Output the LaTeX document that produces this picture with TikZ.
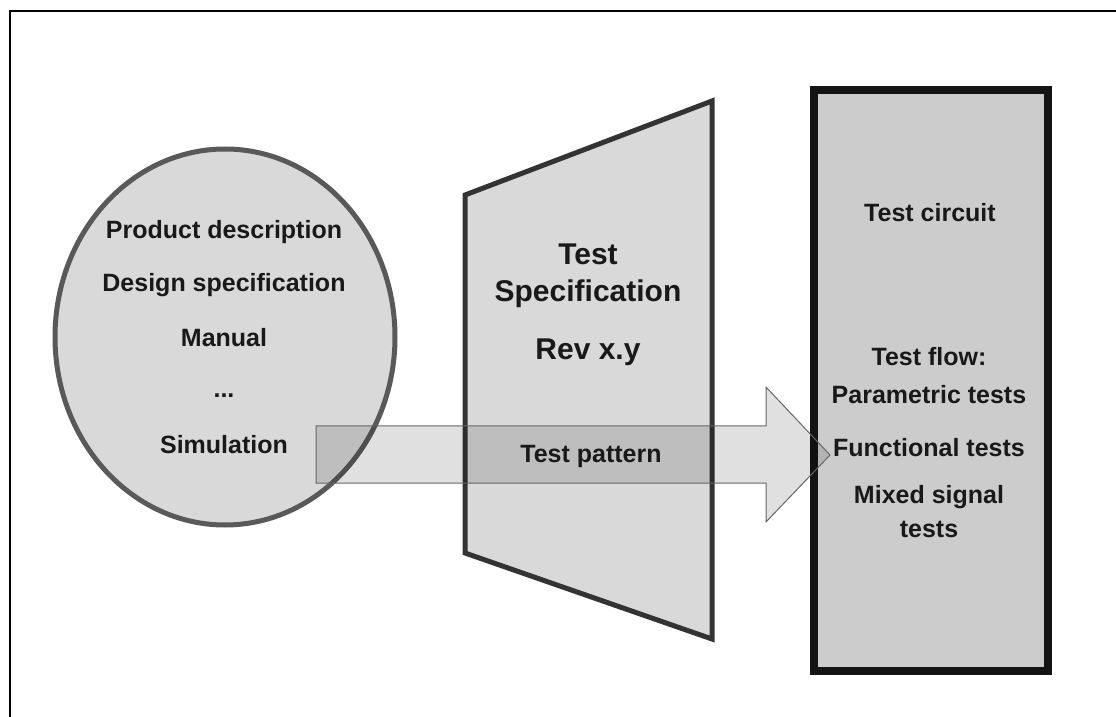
\documentclass[tikz,border=0pt]{standalone}
\usepackage{fontspec}
\setmainfont{Liberation Sans}
\definecolor{shade}{HTML}{D9D9D9}
\definecolor{boxfill}{HTML}{CCCCCC}
\tikzset{
  txt/.style={font=\bfseries\fontsize{12.5}{14}\selectfont, text=black!90, inner sep=0pt},
  bigtxt/.style={font=\bfseries\fontsize{15}{17}\selectfont, text=black!90, inner sep=0pt}
}
\begin{document}
\begin{tikzpicture}[x=0.5pt,y=-0.5pt]
 \useasboundingbox (0,0) rectangle (1116,717);
 \draw[line width=1pt](10,717)--(10,11)--(1116,11);
 \draw[line width=2.5pt,draw=black!65,fill=shade](225,337) ellipse [x radius=170, y radius=188];
 \draw[line width=2.5pt,draw=black!80,fill=shade](465,195)--(712,101)--(712,639)--(465,553)--cycle;
 \draw[line width=4pt,draw=black!92,fill=boxfill](814,90) rectangle (1048,671);
 \draw[line width=0.5pt,draw=black!60,fill=black,fill opacity=0.12](316,426)--(766,426)--(766,387)--(830,455)--(766,522)--(766,483)--(316,483)--cycle;
 \node[txt] (prod) at (224,232) {Product description};
 \node[txt] (design) at (224,285) {Design specification};
 \node[txt] (manual) at (224,338) {Manual};
 \node[txt] (dots) at (224,396) {...};
 \node[txt] (sim) at (224,445) {Simulation};
 \node[bigtxt] (spec1) at (588,254) {Test};
 \node[bigtxt] (spec2) at (588,294) {Specification};
 \node[bigtxt] (rev) at (588,352) {Rev x.y};
 \node[txt] (pattern) at (591,456) {Test pattern};
 \node[txt] (circuit) at (930,213) {Test circuit};
 \node[txt] (flow) at (929,357) {Test flow:};
 \node[txt] (param) at (929,395) {Parametric tests};
 \node[txt] (func) at (929,448) {Functional tests};
 \node[txt] (mixed) at (929,497) {Mixed signal};
 \node[txt] (tests) at (929,529) {tests};
\end{tikzpicture}
\end{document}
